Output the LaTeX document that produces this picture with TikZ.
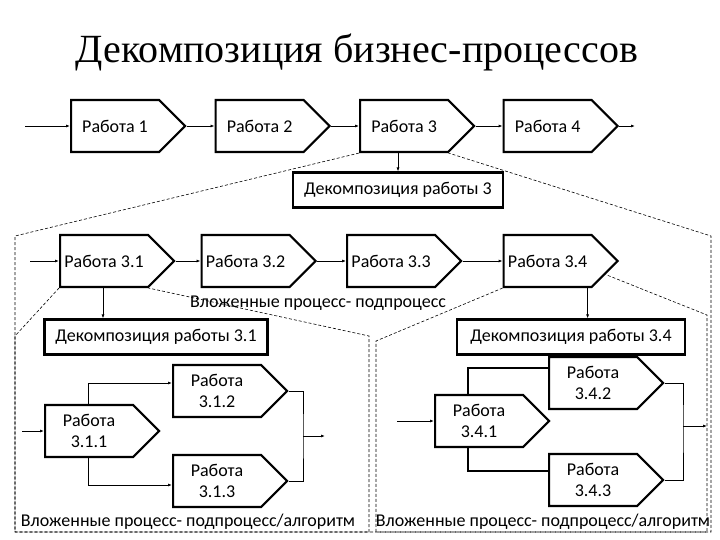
\documentclass[tikz,border=0pt]{standalone}
\usepackage{fontspec}
\setmainfont{Carlito}
\newfontfamily\titlefont{Liberation Serif}
\usetikzlibrary{positioning, arrows.meta, calc, shapes.symbols}

\begin{document}
\begin{tikzpicture}[x=1pt, y=-1pt]
	% Define styles
	\tikzset{
		work/.style={signal, signal to=east, signal pointer angle=90, draw, line width=2.1pt, minimum width=114pt, minimum height=52pt, inner sep=2pt, font=\fontsize{18}{20}\selectfont, anchor=west},
		worktwo/.style={work, align=center, font=\fontsize{18}{21}\selectfont},
		decomp/.style={rectangle, draw, line width=2.1pt, minimum height=35pt, font=\fontsize{18}{20}\selectfont},
		line/.style={draw, line width=0.9pt, -{Latex[length=4pt, width=3pt]}},
		link/.style={draw, line width=0.9pt},
		thicklink/.style={draw, line width=1.5pt},
		frame/.style={draw, dash pattern=on 3pt off 2pt, line width=0.6pt},
		note/.style={font=\fontsize{18}{20}\selectfont, inner sep=0pt}
	}
	\useasboundingbox (0,0) rectangle (720,540);
	
	% Title
	\node[font=\titlefont\fontsize{40}{46}\selectfont] (title) at (357,52) {Декомпозиция бизнес-процессов};
	
	% Nodes
	\node[work] (r1) at (70,126) {Работа 1};
	\node[work, right=28pt of r1] (r2) {Работа 2};
	\node[work, right=28pt of r2] (r3) {Работа 3};
	\node[work, right=27pt of r3] (r4) {Работа 4};
	
	\node[decomp, minimum width=210pt] (d3) at (398,190) {Декомпозиция работы 3};
	
	\node[work] (r31) at (59,261) {Работа 3.1};
	\node[work, right=25pt of r31] (r32) {Работа 3.2};
	\node[work, right=29pt of r32] (r33) {Работа 3.3};
	\node[work, right=40pt of r33] (r34) {Работа 3.4};
	
	\node[note] (n3) at (318,303) {Вложенные процесс- подпроцесс};
	
	\node[decomp, minimum width=223pt] (d31) at (156,337) {Декомпозиция работы 3.1};
	\node[decomp, minimum width=228pt] (d34) at (571,337) {Декомпозиция работы 3.4};
	
	\node[worktwo] (r311) at (44,431) {Работа\\3.1.1};
	\node[worktwo] (r312) at (172,391) {Работа\\3.1.2};
	\node[worktwo] (r313) at (172,481) {Работа\\3.1.3};
	\node[worktwo] (r341) at (434,421) {Работа\\3.4.1};
	\node[worktwo] (r342) at (548,383) {Работа\\3.4.2};
	\node[worktwo] (r343) at (548,480) {Работа\\3.4.3};
	
	\node[note] (n31) at (188,522) {Вложенные процесс- подпроцесс/алгоритм};
	\node[note] (n34) at (543,522) {Вложенные процесс- подпроцесс/алгоритм};
	
	% Free ends and joints
	\coordinate (i1) at (25,126);
	\coordinate (o4) at (635,126);
	\coordinate (i31) at (30,261);
	\coordinate (i311) at (22,431);
	\coordinate (j31) at (303,436);
	\coordinate (o31) at (325,436);
	\coordinate (i341) at (397,421);
	\coordinate (j34) at (683,426);
	\coordinate (o34) at (707,426);
	
	% Frame corners
	\coordinate (f1) at (15,236);
	\coordinate (f2) at (15,532);
	\coordinate (f3) at (711,532);
	\coordinate (f4) at (711,236);
	\coordinate (g1) at (15,336);
	\coordinate (g3) at (369,532);
	\coordinate (g4) at (369,336);
	\coordinate (h1) at (376,341);
	\coordinate (h2) at (376,532);
	\coordinate (h3) at (707,532);
	\coordinate (h4) at (707,315);
	
	% Arrows
	\draw[line] (i1) -- (r1.west);
	\draw[line] (r1.east) -- (r2.west);
	\draw[line] (r2.east) -- (r3.west);
	\draw[line] (r3.east) -- (r4.west);
	\draw[line] (r4.east) -- (o4);
	\draw[line] (d3.north |- r3.south) -- (d3.north);
	
	\draw[line] (i31) -- (r31.west);
	\draw[line] (r31.east) -- (r32.west);
	\draw[line] (r32.east) -- (r33.west);
	\draw[line] (r33.east) -- (r34.west);
	\draw[line] ([xshift=44pt]r31.south west) -- ([xshift=44pt]r31.south west |- d31.north);
	\draw[line] ([xshift=85pt]r34.south west) -- ([xshift=85pt]r34.south west |- d34.north);
	
	\draw[line] (i311) -- (r311.west);
	\draw[line] ([xshift=44pt]r311.north west) |- ([yshift=8pt]r312.west);
	\draw[line] ([xshift=44pt]r311.south west) |- ([yshift=-4pt]r313.west);
	\draw[link] (r312.east) -| (j31) |- (r313.east);
	\draw[line] (j31) -- (o31);
	
	\draw[line] (i341) -- (r341.west);
	\draw[thicklink] ([xshift=34pt]r341.north west) |- ([yshift=15pt]r342.west);
	\draw[thicklink] ([xshift=34pt]r341.south west) |- ([yshift=9pt]r343.west);
	\draw[link] (r342.east) -| (j34) |- (r343.east);
	\draw[line] (j34) -- (o34);
	
	% Dashed frames
	\draw[frame] (r3.south west) -- (f1) -- (f2) -- (f3) -- (f4) -- (r3.south east);
	\draw[frame] (r31.south west) -- (g1) -- (f2) -- (g3) -- (g4) -- (r31.south east);
	\draw[frame] (r34.south west) -- (h1) -- (h2) -- (h3) -- (h4) -- ($(r34.south east)!0.5!(r34.east)$);
	
\end{tikzpicture}
\end{document}
